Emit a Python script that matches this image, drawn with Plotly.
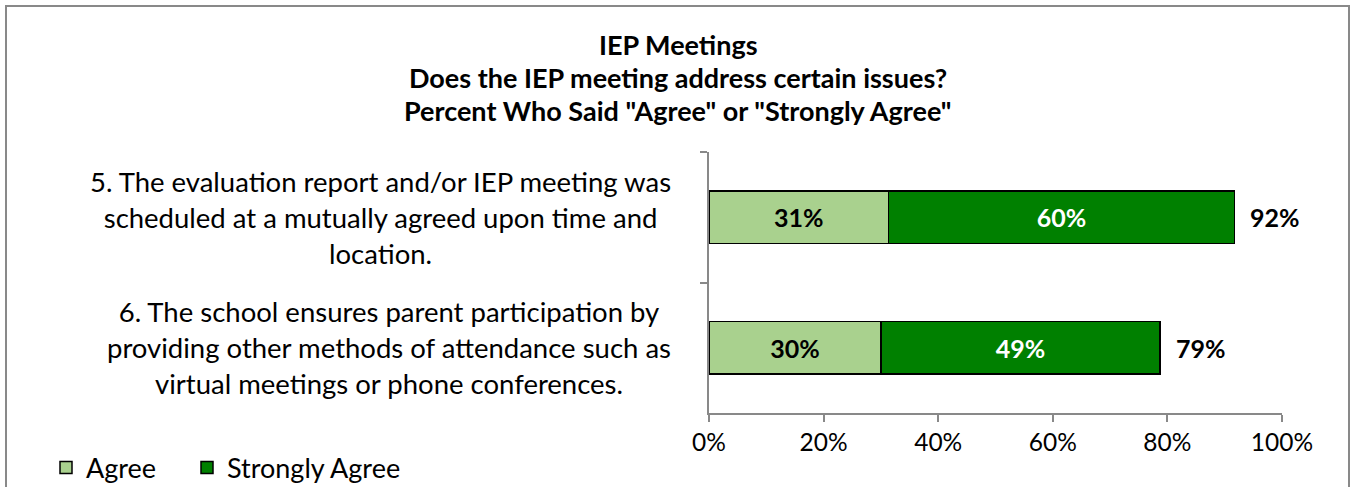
import plotly.graph_objects as go

categories = [
    "5. The evaluation report and/or IEP meeting was<br>scheduled at a mutually agreed upon time and<br>location.",
    "6. The school ensures parent participation by<br>providing other methods of attendance such as<br>virtual meetings or phone conferences.",
]
cat_keys = ["Q5", "Q6"]
agree = [31.3, 30.0]
strongly_agree = [60.4, 48.7]
totals = [a + s for a, s in zip(agree, strongly_agree)]
x_ticks = [0, 20, 40, 60, 80, 100]
title_lines = [
    "IEP Meetings",
    "Does the IEP meeting address certain issues?",
    "Percent Who Said \"Agree\" or \"Strongly Agree\"",
]

FONT = "Lato"
W, H = 1351, 487
L, R, T, B = 709, 69, 152, 74
pw = W - L - R
ph = H - T - B


def px_x(p):
    return (p - L) / pw


def px_y(p):
    return (H - B - p) / ph


fig = go.Figure()
fig.add_trace(go.Bar(
    y=cat_keys, x=agree, orientation="h", name="Agree", legend="legend",
    marker=dict(color="#A9D18E", line=dict(color="#000000", width=1.5)),
    texttemplate="%{x:.0f}%", textposition="inside", insidetextanchor="middle",
    textfont=dict(family=FONT, size=25, color="#000000", weight="bold"),
))
fig.add_trace(go.Bar(
    y=cat_keys, x=strongly_agree, orientation="h", name="Strongly Agree", legend="legend2",
    marker=dict(color="#008000", line=dict(color="#000000", width=1.5)),
    texttemplate="%{x:.0f}%", textposition="inside", insidetextanchor="middle",
    textfont=dict(family=FONT, size=25, color="#FFFFFF", weight="bold"),
))

annotations = []
for k, t in zip(cat_keys, totals):
    annotations.append(dict(
        x=t, y=k, xref="x", yref="y", text=f"<b>{t:.0f}%</b>", showarrow=False,
        xanchor="left", xshift=14, font=dict(family=FONT, size=25, color="#000000"),
    ))
for k, c in zip(cat_keys, categories):
    annotations.append(dict(
        x=0, y=k, xref="paper", yref="y", text=c, showarrow=False,
        xanchor="right", align="center", xshift=-36,
        font=dict(family=FONT, size=27.5, color="#000000"),
    ))
for i, line in enumerate(title_lines):
    annotations.append(dict(
        x=px_x(678), y=px_y(44 + 33 * i), xref="paper", yref="paper",
        text=f"<b>{line}</b>", showarrow=False, xanchor="center", yanchor="middle",
        font=dict(family=FONT, size=27, color="#000000"),
    ))

legend_common = dict(
    orientation="h", xref="container", yref="container",
    y=(H - 468) / H, xanchor="left", yanchor="middle",
    font=dict(family=FONT, size=27, color="#000000"),
    itemwidth=30, bgcolor="rgba(0,0,0,0)",
)

fig.update_layout(
    width=W, height=H,
    margin=dict(l=L, r=R, t=T, b=B, pad=0, autoexpand=False),
    paper_bgcolor="#FFFFFF", plot_bgcolor="#FFFFFF",
    barmode="stack", bargap=0.6,
    font=dict(family=FONT, color="#000000"),
    xaxis=dict(
        range=[0, 100], tickvals=x_ticks, ticktext=[f"{v}%" for v in x_ticks],
        showgrid=False, zeroline=False,
        showline=True, linecolor="#898989", linewidth=2,
        ticks="outside", ticklen=7, tickcolor="#898989", tickwidth=2,
        tickfont=dict(family=FONT, size=24.5, color="#000000"),
        fixedrange=True,
    ),
    yaxis=dict(
        categoryorder="array", categoryarray=cat_keys, autorange="reversed",
        showticklabels=False, showgrid=False, zeroline=False,
        showline=True, linecolor="#898989", linewidth=2,
        ticks="outside", ticklen=7, tickcolor="#898989", tickwidth=2,
        tickson="boundaries", fixedrange=True,
    ),
    legend=dict(x=46 / W, **legend_common),
    legend2=dict(x=187 / W, **legend_common),
    annotations=annotations,
    shapes=[dict(
        type="rect", xref="paper", yref="paper",
        x0=px_x(6), x1=px_x(1349), y0=px_y(500), y1=px_y(6),
        line=dict(color="#898989", width=2), fillcolor="rgba(0,0,0,0)", layer="below",
    )],
    showlegend=True,
)

fig.write_html(
    "out.html",
    config={"displayModeBar": False},
    post_script="document.body.style.margin='0';",
)
